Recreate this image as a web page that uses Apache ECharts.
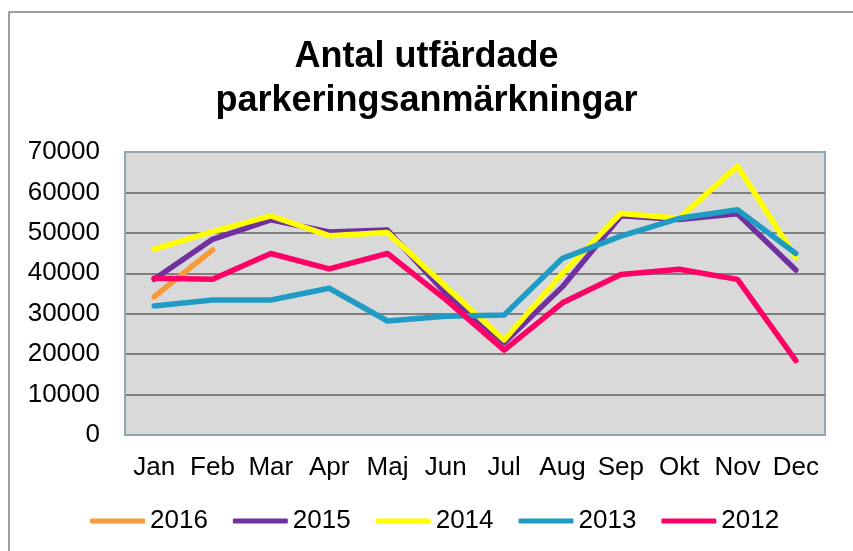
<!DOCTYPE html>
<html>
<head>
<meta charset="utf-8">
<script src="https://cdn.jsdelivr.net/npm/echarts@6/dist/echarts.min.js"></script>
<style>
  html, body { margin: 0; padding: 0; background: #fff; }
  #chart { width: 853px; height: 551px; }
</style>
</head>
<body>
<div id="chart"></div>
<script>
// månader och värden
var months = ['Jan', 'Feb', 'Mar', 'Apr', 'Maj', 'Jun', 'Jul', 'Aug', 'Sep', 'Okt', 'Nov', 'Dec'];
var y2016 = [34200, 45800];
var y2015 = [38500, 48400, 53200, 50200, 50700, 35000, 22800, 36700, 54200, 53300, 54700, 40800];
var y2014 = [46000, 50300, 54200, 49300, 50100, 36700, 23500, 40000, 54800, 53600, 66500, 43900];
var y2013 = [31900, 33400, 33400, 36300, 28200, 29400, 29700, 43700, 49200, 53600, 55700, 44900];
var y2012 = [38800, 38500, 44900, 41100, 44900, 33500, 21000, 32700, 39700, 41000, 38500, 18400];

var yTicks = { min: 0, max: 70000, interval: 10000 };

var font = '"Liberation Sans", Arial, sans-serif';

function line(name, data, color) {
    return {
        name: name,
        type: 'line',
        data: data,
        symbol: 'none',
        lineStyle: { color: color, width: 5.5, cap: 'round', join: 'round' },
        itemStyle: { color: color }
    };
}

var chart = echarts.init(document.getElementById('chart'));
chart.setOption({
    animation: false,
    backgroundColor: '#ffffff',
    graphic: [{
        type: 'rect',
        shape: { x: 9, y: 12, width: 900, height: 600 },
        style: { fill: 'none', stroke: '#808080', lineWidth: 1.5 },
        silent: true
    }],
    title: {
        text: 'Antal utfärdade\nparkeringsanmärkningar',
        left: 'center',
        top: 30,
        textStyle: {
            fontFamily: font,
            fontSize: 36,
            fontWeight: 'bold',
            color: '#000',
            lineHeight: 44
        }
    },
    legend: {
        bottom: 12,
        left: 85,
        itemWidth: 55,
        itemHeight: 5,
        itemGap: 25,
        icon: 'roundRect',
        textStyle: { fontFamily: font, fontSize: 26, color: '#000' },
        data: ['2016', '2015', '2014', '2013', '2012']
    },
    grid: {
        left: 125,
        right: 28,
        top: 152,
        bottom: 116,
        show: true,
        backgroundColor: '#d9d9d9',
        borderColor: '#8ea9b4',
        borderWidth: 2
    },
    xAxis: {
        type: 'category',
        data: months,
        boundaryGap: true,
        axisTick: { show: false },
        axisLine: { lineStyle: { color: '#8ea9b4', width: 2 } },
        axisLabel: { interval: 0, fontFamily: font, fontSize: 26, color: '#000', margin: 20 }
    },
    yAxis: {
        type: 'value',
        min: yTicks.min,
        max: yTicks.max,
        interval: yTicks.interval,
        axisLine: { show: true, lineStyle: { color: '#8ea9b4', width: 2 } },
        axisTick: { show: false },
        axisLabel: {
            fontFamily: font, fontSize: 26, color: '#000', margin: 25,
            formatter: function (v) { return String(v); }
        },
        splitLine: {
            show: true,
            showMinLine: false,
            showMaxLine: false,
            lineStyle: { color: '#7f7f7f', width: 2 }
        }
    },
    series: [
        line('2016', y2016, '#f79a3a'),
        line('2015', y2015, '#7030a0'),
        line('2014', y2014, '#ffff00'),
        line('2013', y2013, '#209cc4'),
        line('2012', y2012, '#ff0066')
    ]
});
</script>
</body>
</html>
